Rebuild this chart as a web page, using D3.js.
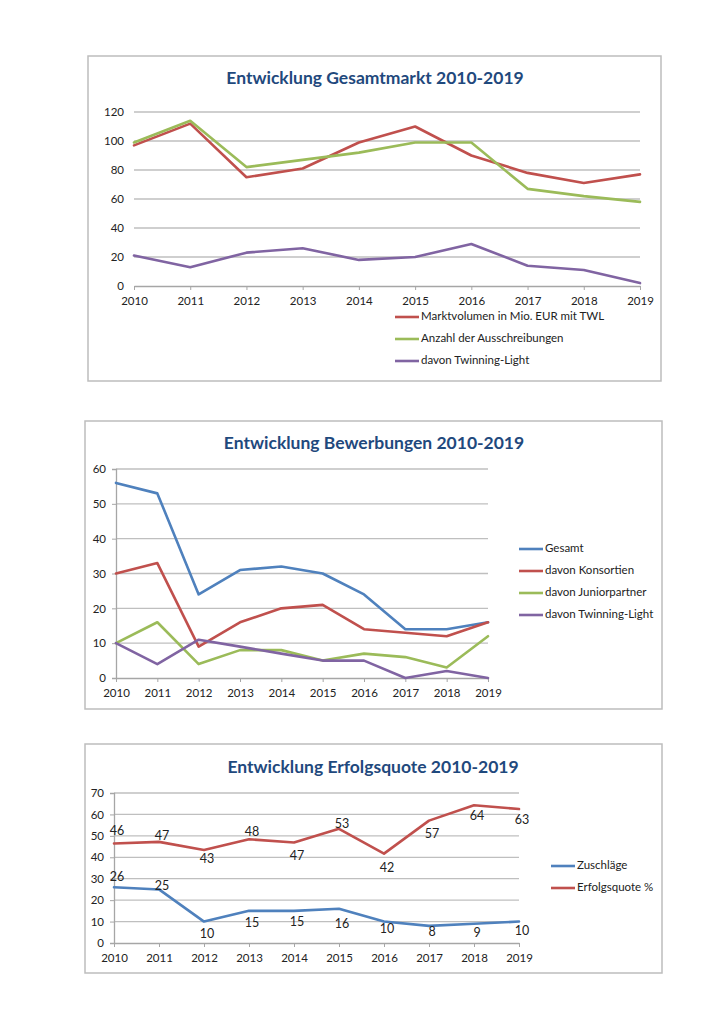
<!DOCTYPE html>
<html>
<head>
<meta charset="utf-8">
<script src="https://cdn.jsdelivr.net/npm/d3@7"></script>
<style>
  body { margin: 0; background: #fff; }
  svg text { font-family: Lato, "Open Sans", sans-serif; fill: #222; }
</style>
</head>
<body>
<svg id="page" width="724" height="1024"></svg>
<script>
// 1] Data ---------------------------------------------//
const years = ['2010','2011','2012','2013','2014','2015','2016','2017','2018','2019']

// Gesamtmarkt
const marktvolumen = [97, 112, 75, 81, 99, 110, 90, 78, 71, 77]
const ausschreibungen = [99, 114, 82, 87, 92, 99, 99, 67, 62, 58]
const twlMarkt = [21, 13, 23, 26, 18, 20, 29, 14, 11, 2]
const ticksMarkt = [0, 20, 40, 60, 80, 100, 120]

// Bewerbungen
const gesamt = [56, 53, 24, 31, 32, 30, 24, 14, 14, 16]
const konsortien = [30, 33, 9, 16, 20, 21, 14, 13, 12, 16]
const juniorpartner = [10, 16, 4, 8, 8, 5, 7, 6, 3, 12]
const twlBewerbung = [10, 4, 11, 9, 7, 5, 5, 0, 2, 0]
const ticksBewerbung = [0, 10, 20, 30, 40, 50, 60]

// Erfolgsquote
const zuschlaege = [26, 25, 10, 15, 15, 16, 10, 8, 9, 10]
const erfolgsquote = [46.4, 47.2, 43.4, 48.4, 46.9, 53.3, 41.7, 57.1, 64.3, 62.5]
const ticksQuote = [0, 10, 20, 30, 40, 50, 60, 70]

// label offsets (layout only, px relative to point)
const quoteDy = [-12, -5, 10, -6, 14, -4, 15, 14, 12, 12]
const zuschlagDy = [-9, -3, 13, 13, 12, 16, 8, 7, 10, 10]

const colors = { red: '#C0504D', green: '#9BBB59', purple: '#8064A2', blue: '#4F81BD' }

const svg = d3.select('#page')

// 2] generic line chart ------------------------------//
function drawChart(cfg) {
  const g = svg.append('g')

  // frame
  g.append('rect')
    .attr('x', cfg.box[0]).attr('y', cfg.box[1])
    .attr('width', cfg.box[2] - cfg.box[0]).attr('height', cfg.box[3] - cfg.box[1])
    .attr('fill', '#fff').attr('stroke', '#BDBDBD').attr('stroke-width', 1.5)

  g.append('text')
    .attr('x', cfg.titleX).attr('y', cfg.titleY)
    .attr('text-anchor', 'middle')
    .style('font-size', '17.5px').style('font-weight', 'bold')
    .style('fill', '#1F497D')
    .text(cfg.title)

  const xScale = d3.scalePoint().domain(years).range([cfg.plot[0], cfg.plot[2]])
  const yScale = d3.scaleLinear().domain([0, d3.max(cfg.ticks)]).range([cfg.plot[3], cfg.plot[1]])

  // gridlines
  g.append('g').selectAll('line')
    .data(cfg.ticks.filter(t => t > 0))
    .join('line')
    .attr('x1', cfg.plot[0]).attr('x2', cfg.plot[2])
    .attr('y1', d => yScale(d)).attr('y2', d => yScale(d))
    .attr('stroke', '#BFBFBF').attr('stroke-width', 1.3)

  // y axis
  const yAxis = d3.axisLeft(yScale).tickValues(cfg.ticks).tickSize(cfg.yAxisLine ? 4 : 0).tickPadding(cfg.yAxisLine ? 6 : 10)
  const ya = g.append('g').attr('transform', `translate(${cfg.plot[0]},0)`).call(yAxis)
  ya.select('.domain').attr('stroke', cfg.yAxisLine ? '#A6A6A6' : 'none').attr('stroke-width', 1.3)
  ya.selectAll('.tick line').attr('stroke', '#A6A6A6')
  ya.selectAll('text').style('font-size', '11.5px').style('fill', '#222')

  // x axis
  const xAxis = d3.axisBottom(xScale).tickSize(4).tickSizeOuter(0).tickPadding(7)
  const xa = g.append('g').attr('transform', `translate(0,${cfg.plot[3]})`).call(xAxis)
  xa.select('.domain').attr('stroke', '#A6A6A6').attr('stroke-width', 1.3)
  xa.selectAll('.tick line').attr('stroke', '#A6A6A6')
  xa.selectAll('text').style('font-size', '11.5px').style('fill', '#222')

  const line = d3.line()
    .x((d, i) => xScale(years[i]))
    .y(d => yScale(d))

  cfg.series.forEach(s => {
    g.append('path')
      .attr('d', line(s.values))
      .attr('fill', 'none')
      .attr('stroke', s.color)
      .attr('stroke-width', 2.6)
      .attr('stroke-linejoin', 'round')
      .attr('stroke-linecap', 'round')

    if (s.labelDy) {
      g.append('g').selectAll('text')
        .data(s.values)
        .join('text')
        .attr('x', (d, i) => xScale(years[i]) + 3)
        .attr('y', (d, i) => yScale(d) + s.labelDy[i])
        .attr('text-anchor', 'middle')
        .attr('dominant-baseline', 'middle')
        .style('font-size', '12.5px')
        .text(d => d3.format('.0f')(d))
    }
  })

  // legend
  const lg = g.append('g')
  cfg.series.forEach((s, i) => {
    const y = cfg.legend[1] + i * cfg.legend[2]
    lg.append('line')
      .attr('x1', cfg.legend[0]).attr('x2', cfg.legend[0] + 24)
      .attr('y1', y).attr('y2', y)
      .attr('stroke', s.color).attr('stroke-width', 2.6)
    lg.append('text')
      .attr('x', cfg.legend[0] + 26).attr('y', y)
      .attr('dominant-baseline', 'middle')
      .style('font-size', '11.5px')
      .text(s.name)
  })
}

// 3] three charts ------------------------------------//
drawChart({
  title: 'Entwicklung Gesamtmarkt 2010-2019',
  box: [88, 56, 661, 381], titleX: 375, titleY: 84,
  plot: [134, 112, 640, 286], ticks: ticksMarkt, yAxisLine: false,
  legend: [395, 317, 22],
  series: [
    { name: 'Marktvolumen in Mio. EUR mit TWL', values: marktvolumen, color: colors.red },
    { name: 'Anzahl der Ausschreibungen', values: ausschreibungen, color: colors.green },
    { name: 'davon Twinning-Light', values: twlMarkt, color: colors.purple }
  ]
})

drawChart({
  title: 'Entwicklung Bewerbungen 2010-2019',
  box: [85, 421, 662, 709], titleX: 374, titleY: 449,
  plot: [116, 469, 488, 678], ticks: ticksBewerbung, yAxisLine: true,
  legend: [519, 549, 22],
  series: [
    { name: 'Gesamt', values: gesamt, color: colors.blue },
    { name: 'davon Konsortien', values: konsortien, color: colors.red },
    { name: 'davon Juniorpartner', values: juniorpartner, color: colors.green },
    { name: 'davon Twinning-Light', values: twlBewerbung, color: colors.purple }
  ]
})

drawChart({
  title: 'Entwicklung Erfolgsquote 2010-2019',
  box: [85, 744, 662, 973], titleX: 373, titleY: 773,
  plot: [114, 793, 519, 943], ticks: ticksQuote, yAxisLine: true,
  legend: [551, 866, 22],
  series: [
    { name: 'Zuschläge', values: zuschlaege, color: colors.blue, labelDy: zuschlagDy },
    { name: 'Erfolgsquote %', values: erfolgsquote, color: colors.red, labelDy: quoteDy }
  ]
})
</script>
</body>
</html>
